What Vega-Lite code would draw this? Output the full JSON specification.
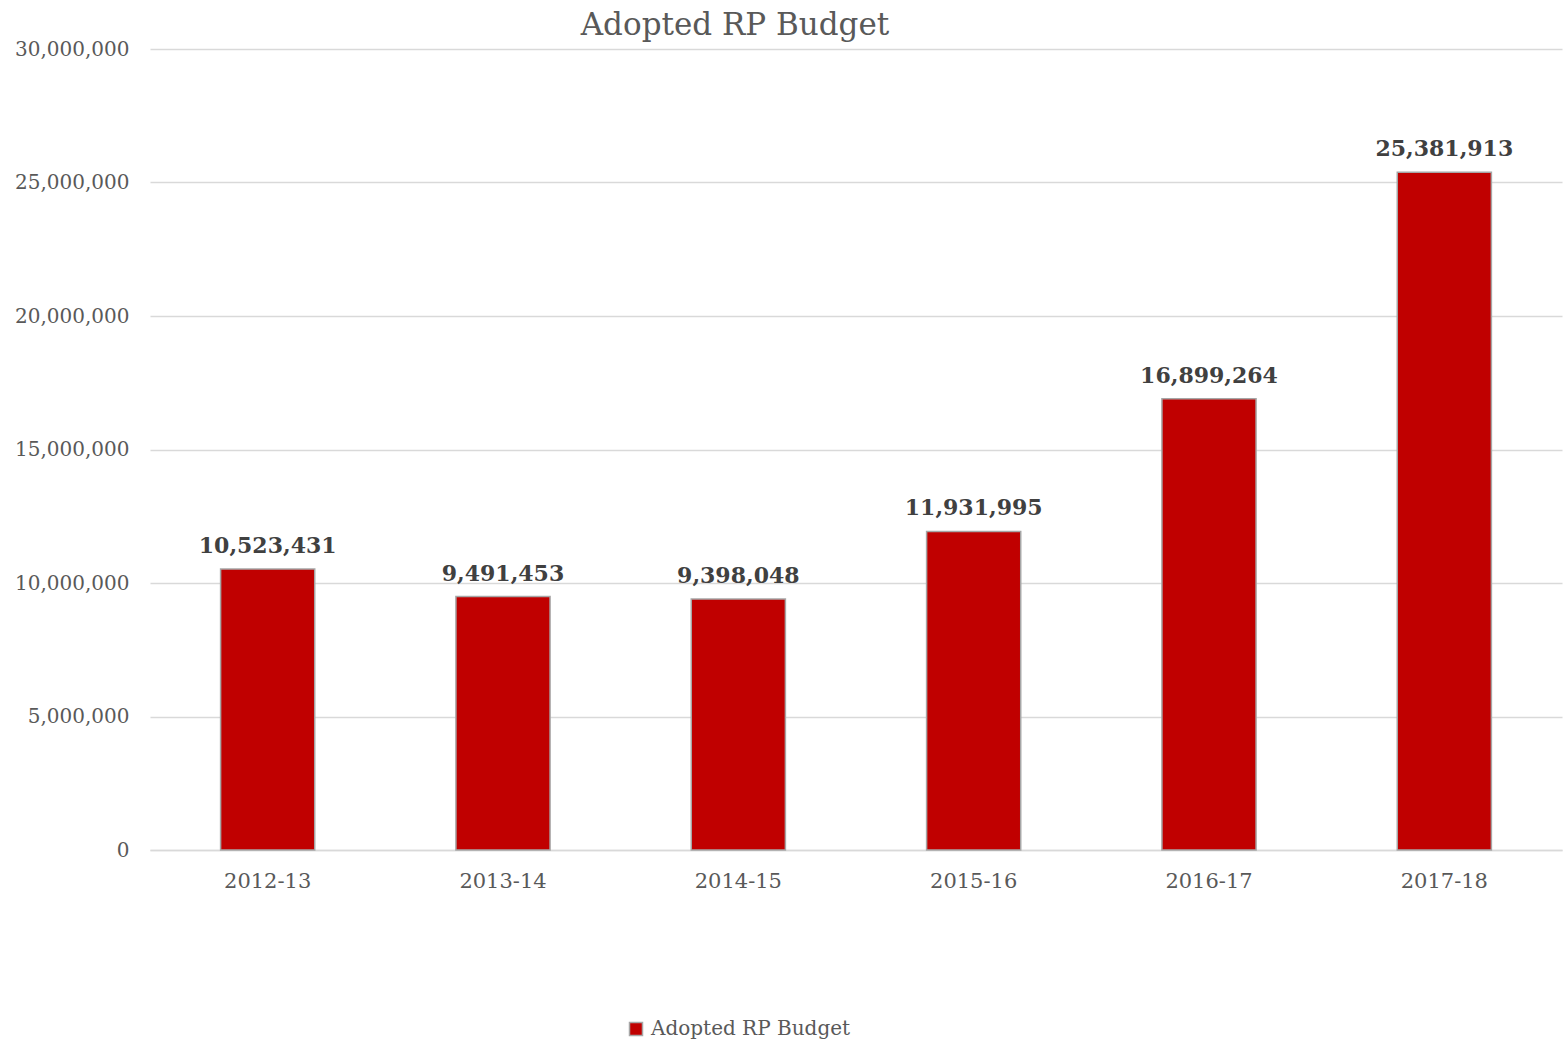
{
  "$schema": "https://vega.github.io/schema/vega-lite/v6.json",
  "width": 1412,
  "height": 801,
  "autosize": {"type": "none"},
  "padding": {"left": 150, "top": 49, "right": 3, "bottom": 192},
  "background": "white",
  "title": {
    "text": "Adopted RP Budget",
    "font": "DejaVu Serif",
    "fontSize": 31,
    "fontWeight": "normal",
    "color": "#595959",
    "anchor": "middle",
    "dx": -121,
    "baseline": "alphabetic",
    "offset": -27
  },
  "config": {
    "view": {"stroke": null},
    "font": "DejaVu Serif"
  },
  "data": {
    "values": [
      {"year": "2012-13", "series": "Adopted RP Budget", "value": 10523431},
      {"year": "2013-14", "series": "Adopted RP Budget", "value": 9491453},
      {"year": "2014-15", "series": "Adopted RP Budget", "value": 9398048},
      {"year": "2015-16", "series": "Adopted RP Budget", "value": 11931995},
      {"year": "2016-17", "series": "Adopted RP Budget", "value": 16899264},
      {"year": "2017-18", "series": "Adopted RP Budget", "value": 25381913}
    ]
  },
  "encoding": {
    "x": {
      "field": "year",
      "type": "nominal",
      "sort": null,
      "scale": {"paddingInner": 0.6, "paddingOuter": 0.3},
      "axis": {
        "title": null,
        "labelAngle": 0,
        "labelFont": "DejaVu Serif",
        "labelFontSize": 21,
        "labelColor": "#595959",
        "labelPadding": 20,
        "ticks": false,
        "domainColor": "#D9D9D9",
        "domainWidth": 1.5
      }
    },
    "y": {
      "field": "value",
      "type": "quantitative",
      "scale": {"domain": [0, 30000000], "nice": false},
      "axis": {
        "title": null,
        "values": [0, 5000000, 10000000, 15000000, 20000000, 25000000, 30000000],
        "format": ",d",
        "labelFont": "DejaVu Serif",
        "labelFontSize": 20,
        "labelColor": "#595959",
        "labelPadding": 21,
        "ticks": false,
        "domain": false,
        "gridColor": "#D9D9D9",
        "gridWidth": 1.5
      }
    }
  },
  "layer": [
    {
      "mark": {"type": "bar", "stroke": "#A6A6A6", "strokeWidth": 1.5},
      "encoding": {
        "color": {
          "field": "series",
          "type": "nominal",
          "scale": {"range": ["#C00000"]},
          "legend": {
            "title": null,
            "orient": "none",
            "legendX": 476,
            "legendY": 970,
            "symbolType": "square",
            "symbolSize": 169,
            "symbolStrokeColor": "#A6A6A6",
            "symbolStrokeWidth": 1.5,
            "labelFont": "DejaVu Serif",
            "labelFontSize": 20,
            "labelColor": "#595959",
            "labelOffset": 5,
            "labelLimit": 500
          }
        }
      }
    },
    {
      "mark": {
        "type": "text",
        "baseline": "alphabetic",
        "dy": -16,
        "font": "DejaVu Serif",
        "fontSize": 22,
        "fontWeight": "bold",
        "color": "#404040"
      },
      "encoding": {
        "text": {"field": "value", "type": "quantitative", "format": ",d"}
      }
    }
  ]
}
